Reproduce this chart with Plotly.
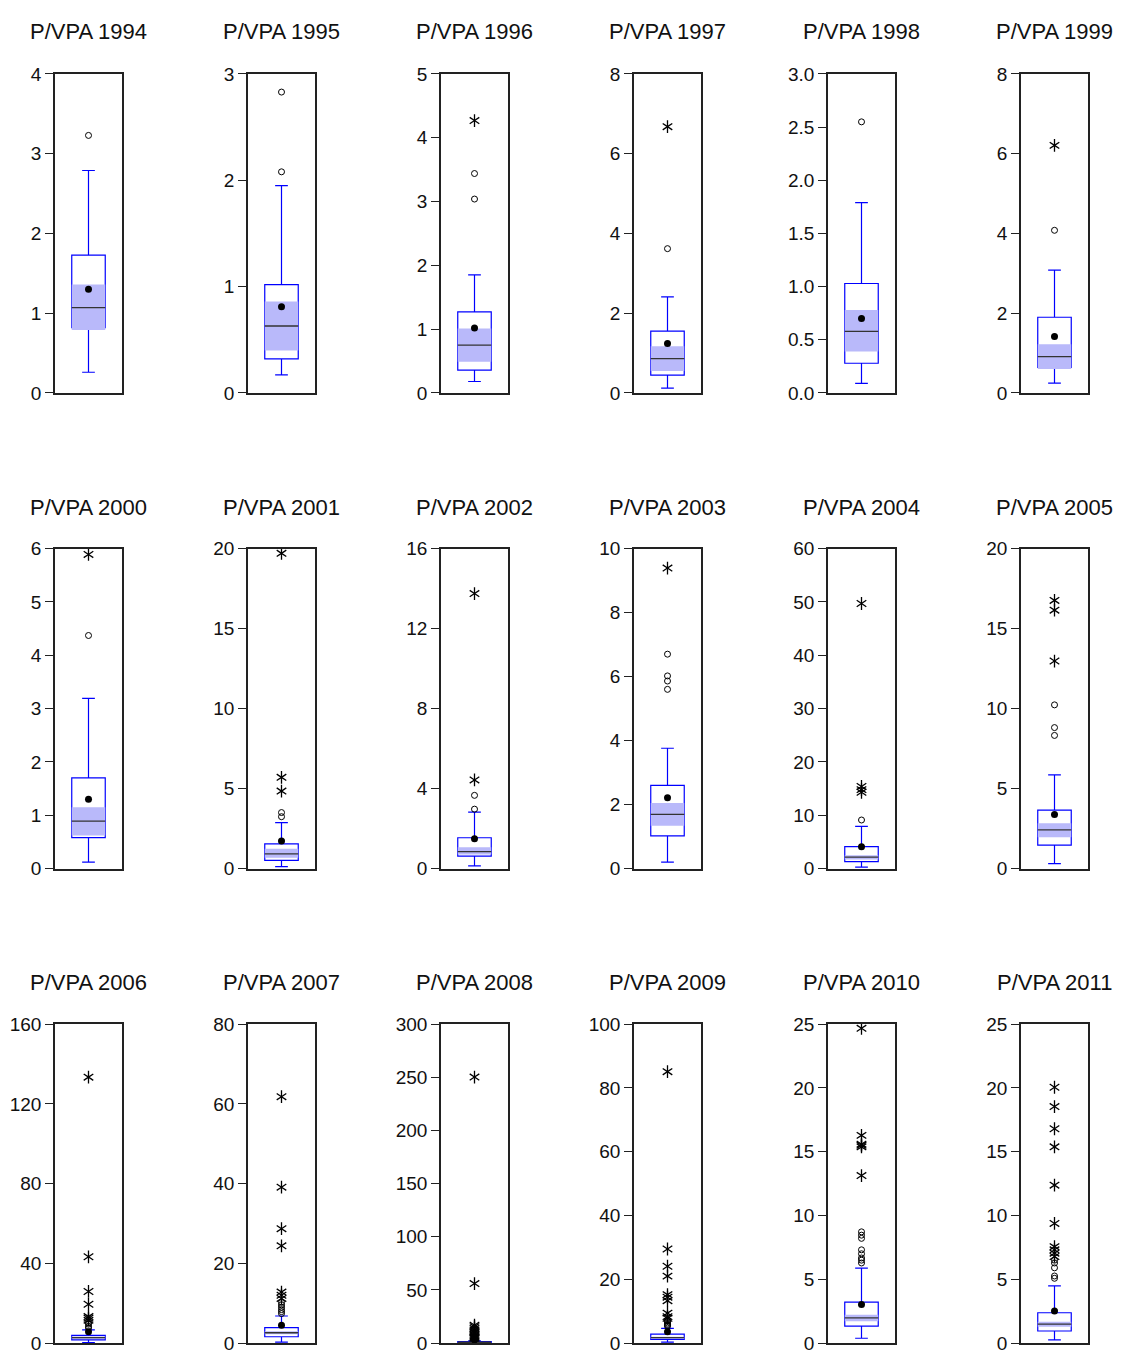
import plotly.graph_objects as go

years = list(range(1994, 2012))
titles = [f"P/VPA {y}" for y in years]

q1 = [0.82, 0.32, 0.36, 0.45, 0.28, 0.64,
      0.58, 0.51, 0.62, 1.02, 1.30, 1.46,
      1.60, 1.60, 0.50, 1.20, 1.33, 0.95]
median = [1.07, 0.63, 0.75, 0.86, 0.58, 0.91,
          0.89, 0.92, 0.85, 1.69, 2.15, 2.42,
          2.80, 2.60, 0.80, 1.70, 1.97, 1.49]
q3 = [1.73, 1.02, 1.27, 1.55, 1.03, 1.90,
      1.70, 1.54, 1.54, 2.60, 4.10, 3.65,
      3.90, 3.90, 1.40, 2.80, 3.21, 2.38]
lower_whisker = [0.26, 0.17, 0.18, 0.12, 0.09, 0.25,
                 0.12, 0.12, 0.13, 0.20, 0.25, 0.31,
                 0.30, 0.25, 0.10, 0.30, 0.38, 0.26]
upper_whisker = [2.79, 1.95, 1.85, 2.41, 1.79, 3.08,
                 3.19, 2.87, 2.82, 3.76, 7.90, 5.86,
                 6.60, 6.80, 2.20, 4.60, 5.87, 4.49]
mean = [1.30, 0.81, 1.02, 1.24, 0.70, 1.42,
        1.30, 1.72, 1.49, 2.21, 4.10, 3.38,
        5.70, 4.50, 3.10, 3.60, 3.03, 2.51]
ci_low = [0.79, 0.40, 0.49, 0.55, 0.39, 0.60,
          0.62, 0.68, 0.70, 1.34, 1.70, 1.95,
          2.30, 2.20, 0.60, 1.40, 1.72, 1.28]
ci_high = [1.36, 0.86, 1.01, 1.17, 0.78, 1.22,
           1.15, 1.23, 1.07, 2.05, 2.50, 2.83,
           3.30, 3.00, 1.00, 2.00, 2.23, 1.67]
near_outliers = [
    [3.23], [2.08, 2.83], [3.04, 3.44], [3.62], [2.55], [4.08],
    [4.37], [3.24, 3.50], [2.97, 3.66], [5.60, 5.86, 6.02, 6.70], [9.1], [8.32, 8.81, 10.23],
    [7.6, 8.4, 9.5, 10.3], [7.4, 7.9, 8.4, 9.0, 9.6, 10.2], [3.0, 3.4, 3.9],
    [5.3, 5.6, 5.9, 6.3, 6.8, 7.2], [6.28, 6.5, 6.67, 7.0, 7.31, 8.21, 8.46, 8.72],
    [5.08, 5.26, 5.9, 6.28, 6.5],
]
far_outliers = [
    [], [], [4.27], [6.68], [], [6.21],
    [5.89], [4.84, 5.70, 19.7], [4.43, 13.75], [9.39], [14.3, 14.8, 15.4, 49.7], [12.97, 16.15, 16.76],
    [11.5, 12.5, 13.3, 19.5, 25.9, 43.3, 133.4],
    [11.2, 12.0, 12.8, 24.4, 28.7, 39.1, 61.8],
    [4.5, 5.2, 6.0, 7.0, 8.2, 9.5, 10.8, 12.3, 13.8, 15.5, 16.8, 56.0, 250.2],
    [7.8, 8.3, 9.4, 13.3, 14.4, 15.2, 21.0, 24.1, 29.5, 85.1],
    [13.13, 15.38, 15.5, 15.59, 16.28, 24.67],
    [6.79, 7.05, 7.31, 7.56, 9.38, 12.38, 15.38, 16.8, 18.54, 20.05],
]
axis_max = [4, 3, 5, 8, 3.0, 8,
            6, 20, 16, 10, 60, 20,
            160, 80, 300, 100, 25, 25]
axis_step = [1, 1, 1, 2, 0.5, 2,
             1, 5, 4, 2, 10, 5,
             40, 20, 50, 20, 5, 5]

W, H = 1125, 1361
col_left = [55, 248, 441, 634, 828, 1021]
panel_w = 67
row_top = [65, 547, 1030]
row_bot = [389, 872, 1354]
title_y = [22, 505, 988]

BLUE = "#0000FF"
SHADE = "rgb(185,185,250)"
FONT = "Liberation Sans, Arial, sans-serif"

fig = go.Figure()
annotations = []
layout_axes = {}

for i in range(18):
    r, c = divmod(i, 6)
    n = i + 1
    xa = "x" if n == 1 else f"x{n}"
    ya = "y" if n == 1 else f"y{n}"
    xkey = "xaxis" if n == 1 else f"xaxis{n}"
    ykey = "yaxis" if n == 1 else f"yaxis{n}"

    # CI shading of the median
    fig.add_trace(go.Scatter(
        x=[-0.5, 0.5, 0.5, -0.5, -0.5],
        y=[ci_low[i], ci_low[i], ci_high[i], ci_high[i], ci_low[i]],
        fill="toself", fillcolor=SHADE, mode="lines", line=dict(width=0),
        xaxis=xa, yaxis=ya, showlegend=False, hoverinfo="skip"))
    # box & whiskers
    fig.add_trace(go.Box(
        x=[0], q1=[q1[i]], median=[median[i]], q3=[q3[i]],
        lowerfence=[lower_whisker[i]], upperfence=[upper_whisker[i]],
        width=1.0, whiskerwidth=0.38, boxpoints=False,
        line=dict(color=BLUE, width=1.2), fillcolor="rgba(0,0,0,0)",
        xaxis=xa, yaxis=ya, showlegend=False, hoverinfo="skip"))
    # median line
    fig.add_trace(go.Scatter(
        x=[-0.5, 0.5], y=[median[i], median[i]], mode="lines",
        line=dict(color="#333333", width=1.3),
        xaxis=xa, yaxis=ya, showlegend=False, hoverinfo="skip"))
    # mean
    fig.add_trace(go.Scatter(
        x=[0], y=[mean[i]], mode="markers",
        marker=dict(color="black", size=7, symbol="circle"),
        xaxis=xa, yaxis=ya, showlegend=False, hoverinfo="skip"))
    # near outliers
    if near_outliers[i]:
        fig.add_trace(go.Scatter(
            x=[0] * len(near_outliers[i]), y=near_outliers[i], mode="markers",
            marker=dict(color="black", size=6, symbol="circle-open", line=dict(width=1, color="black")),
            xaxis=xa, yaxis=ya, showlegend=False, hoverinfo="skip"))
    # far outliers (asterisks built from two Y symbols)
    if far_outliers[i]:
        for sym in ("y-up-open", "y-down-open"):
            fig.add_trace(go.Scatter(
                x=[0] * len(far_outliers[i]), y=far_outliers[i], mode="markers",
                marker=dict(color="black", size=8, symbol=sym, line=dict(width=1.3, color="black")),
                xaxis=xa, yaxis=ya, showlegend=False, hoverinfo="skip"))

    x0 = col_left[c] / W
    x1 = (col_left[c] + panel_w) / W
    y0 = 1 - row_bot[r] / H
    y1 = 1 - row_top[r] / H
    fmt = ".1f" if axis_step[i] < 1 else "d"
    layout_axes[xkey] = dict(
        domain=[x0, x1], anchor=ya, range=[-1, 1], showgrid=False, zeroline=False,
        showticklabels=False, ticks="", showline=True, mirror=True,
        linecolor="#222222", linewidth=1.5, fixedrange=True)
    layout_axes[ykey] = dict(
        domain=[y0, y1], anchor=xa, range=[0, axis_max[i]], dtick=axis_step[i], tick0=0,
        tickformat=fmt, showgrid=False, zeroline=False, showline=True, mirror=True,
        linecolor="#222222", linewidth=1.5, ticks="outside", ticklen=8, tickwidth=1,
        tickcolor="#222222", tickfont=dict(family=FONT, size=19, color="#111111"),
        fixedrange=True)
    annotations.append(dict(
        text=titles[i], x=(col_left[c] + panel_w / 2) / W, y=1 - title_y[r] / H,
        xref="paper", yref="paper", xanchor="center", yanchor="middle",
        showarrow=False, font=dict(family=FONT, size=22, color="#111111")))

fig.update_layout(
    width=W, height=H, margin=dict(l=0, r=0, t=0, b=0),
    paper_bgcolor="white", plot_bgcolor="white",
    annotations=annotations, showlegend=False, **layout_axes)

fig.write_html("out.html")
